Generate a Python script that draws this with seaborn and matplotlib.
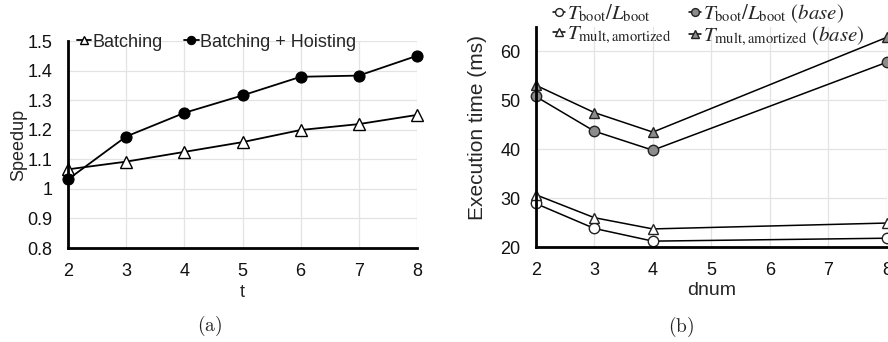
import matplotlib
matplotlib.use("Agg")
import matplotlib.pyplot as plt
import seaborn as sns
import pandas as pd

# ---- data ----
t_vals = [2, 3, 4, 5, 6, 7, 8]
batching = [1.066, 1.092, 1.125, 1.158, 1.199, 1.219, 1.250]
batching_hoisting = [1.032, 1.177, 1.257, 1.316, 1.379, 1.383, 1.450]

dnum_vals = [2, 3, 4, 8]
boot = [28.9, 23.8, 21.2, 21.8]
mult = [30.7, 26.0, 23.7, 24.9]
boot_base = [50.8, 43.7, 39.8, 57.8]
mult_base = [53.1, 47.5, 43.5, 62.9]

left_yticks = [0.8, 0.9, 1.0, 1.1, 1.2, 1.3, 1.4, 1.5]
left_yticklabels = ["0.8", "0.9", "1", "1.1", "1.2", "1.3", "1.4", "1.5"]
right_yticks = [20, 30, 40, 50, 60]

sns.set_style("white")
plt.rcParams["font.family"] = ["Liberation Sans", "DejaVu Sans"]
plt.rcParams["mathtext.fontset"] = "stix"

fig = plt.figure(figsize=(8.88, 3.42), dpi=100)
ax1 = fig.add_axes([68 / 888, (342 - 248) / 342, (417 - 68) / 888, (248 - 41) / 342])
ax2 = fig.add_axes([535.7 / 888, (342 - 247) / 342, (887 - 535.7) / 888, (247 - 27) / 342])

FS = 13
GRID = "#e3e3e3"

def style(ax):
    ax.grid(True, color=GRID, linewidth=0.9)
    ax.set_axisbelow(True)
    for s in ["top", "right"]:
        ax.spines[s].set_visible(False)
    for s in ["left", "bottom"]:
        ax.spines[s].set_color("black")
        ax.spines[s].set_linewidth(2)
    ax.tick_params(length=0, labelsize=FS, colors="#111111")
    ax.tick_params(axis="x", pad=11)
    ax.tick_params(axis="y", pad=11)

# ---- left panel ----
df1 = pd.DataFrame({"t": t_vals, "Batching": batching, "Batching + Hoisting": batching_hoisting})
sns.lineplot(data=df1, x="t", y="Batching", ax=ax1, color="black", lw=1.3,
             marker="^", markersize=8, markerfacecolor="white", markeredgecolor="black",
             markeredgewidth=1.0, label="Batching", clip_on=False)
sns.lineplot(data=df1, x="t", y="Batching + Hoisting", ax=ax1, color="black", lw=1.3,
             marker="o", markersize=8, markerfacecolor="black", markeredgecolor="black",
             label="Batching + Hoisting", clip_on=False)
ax1.set_xlim(2, 8)
ax1.set_ylim(0.8, 1.5)
ax1.set_xticks(t_vals)
ax1.set_yticks(left_yticks)
ax1.set_yticklabels(left_yticklabels)
style(ax1)
ax1.set_xlabel("t", fontsize=FS, labelpad=3)
ax1.set_ylabel("Speedup", fontsize=FS, labelpad=0)
ax1.legend(loc="center left", bbox_to_anchor=(0.005, 0.995), ncol=2, frameon=False,
           fontsize=FS, handlelength=0.8, handletextpad=0.05, columnspacing=1.2,
           borderaxespad=0.0, markerscale=0.75)

# ---- right panel ----
df2 = pd.DataFrame({"dnum": dnum_vals, "boot": boot, "mult": mult,
                    "boot_base": boot_base, "mult_base": mult_base})
series = [
    ("boot", r"$T_{\mathrm{boot}}/L_{\mathrm{boot}}$", "o", "white"),
    ("mult", r"$T_{\mathrm{mult,amortized}}$", "^", "white"),
    ("boot_base", r"$T_{\mathrm{boot}}/L_{\mathrm{boot}}\ (base)$", "o", "#8c8c8c"),
    ("mult_base", r"$T_{\mathrm{mult,amortized}}\ (base)$", "^", "#8c8c8c"),
]
for col, lab, mk, fc in series:
    sns.lineplot(data=df2, x="dnum", y=col, ax=ax2, color="black", lw=1.1,
                 marker=mk, markersize=7.5, markerfacecolor=fc, markeredgecolor="#222222",
                 markeredgewidth=1.0, label=lab, clip_on=False)
ax2.set_xlim(2, 8)
ax2.set_ylim(20, 65)
ax2.set_xticks([2, 3, 4, 5, 6, 7, 8])
ax2.set_yticks(right_yticks)
style(ax2)
ax2.set_xlabel("dnum", fontsize=14, labelpad=2)
ax2.set_ylabel("Execution time (ms)", fontsize=15)
ax2.yaxis.set_label_coords(-0.14, 0.545)
ax2.legend(loc="upper left", bbox_to_anchor=(0.025, 1.15), ncol=2, frameon=False,
           fontsize=15, handlelength=0.6, handletextpad=0.1, columnspacing=0.8,
           borderaxespad=0.0, labelspacing=0.0, markerscale=0.75)

# ---- captions ----
fig.text(210 / 888, 1 - 326 / 342, r"$\mathrm{(a)}$", ha="center", va="center",
         fontsize=14, math_fontfamily="cm")
fig.text(681 / 888, 1 - 327 / 342, r"$\mathrm{(b)}$", ha="center", va="center",
         fontsize=14, math_fontfamily="cm")

fig.savefig("out.png", dpi=100)
